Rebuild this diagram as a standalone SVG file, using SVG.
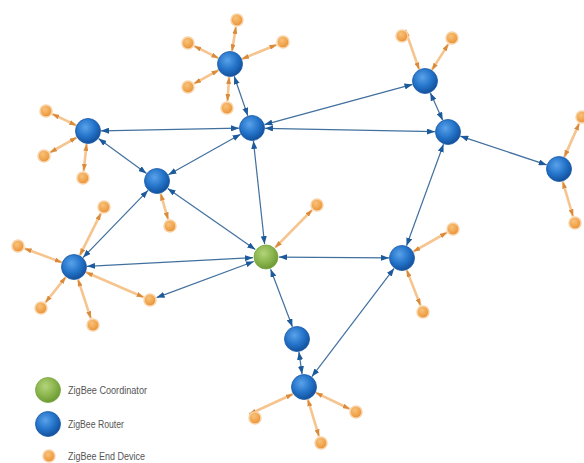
<svg xmlns="http://www.w3.org/2000/svg" width="584" height="463" viewBox="0 0 584 463">
<defs>
<radialGradient id="gBlue" cx="40%" cy="35%" r="65%">
<stop offset="0" stop-color="#5aa2ea"/>
<stop offset="0.6" stop-color="#2272c8"/>
<stop offset="1" stop-color="#14519c"/>
</radialGradient>
<radialGradient id="gGreen" cx="40%" cy="35%" r="65%">
<stop offset="0" stop-color="#b2d47a"/>
<stop offset="0.6" stop-color="#8ab44c"/>
<stop offset="1" stop-color="#6d9a36"/>
</radialGradient>
<radialGradient id="gOrange" cx="40%" cy="35%" r="65%">
<stop offset="0" stop-color="#f8c27a"/>
<stop offset="0.7" stop-color="#f0a24a"/>
<stop offset="1" stop-color="#e48e34"/>
</radialGradient>
<marker id="aBlue" viewBox="0 0 8 6" refX="8" refY="3" markerWidth="8" markerHeight="6" markerUnits="userSpaceOnUse" orient="auto-start-reverse">
<path d="M0,0 L8,3 L0,6 z" fill="#1d5a9c"/>
</marker>
<marker id="aOrange" viewBox="0 0 7 5" refX="7" refY="2.5" markerWidth="7" markerHeight="5" markerUnits="userSpaceOnUse" orient="auto-start-reverse">
<path d="M0,0 L7,2.5 L0,5 z" fill="#d98a3a"/>
</marker>
</defs>
<style>
.bl{stroke:#41709f;stroke-width:1.2;fill:none;marker-start:url(#aBlue);marker-end:url(#aBlue)}
.ol{stroke:#f6c48e;stroke-width:2.6;fill:none;marker-start:url(#aOrange);marker-end:url(#aOrange)}
.router{fill:url(#gBlue);stroke:#1a5aa8;stroke-width:0.8}
.coord{fill:url(#gGreen);stroke:#7aa640;stroke-width:0.8}
.end{fill:url(#gOrange);stroke:#f8d2a6;stroke-width:1.5}
.lg{font-family:"Liberation Sans",Arial,sans-serif;font-size:10px;fill:#555555}
</style>
<rect width="584" height="463" fill="#ffffff"/>
<g id="connectors">
<line class="bl" x1="234.2" y1="76.3" x2="247.8" y2="115.7"/>
<line class="bl" x1="101" y1="130.8" x2="239" y2="128.2"/>
<line class="bl" x1="98.5" y1="138.6" x2="146.5" y2="173.4"/>
<line class="bl" x1="168.4" y1="174.7" x2="240.6" y2="134.3"/>
<line class="bl" x1="264.5" y1="124.6" x2="412.5" y2="84.4"/>
<line class="bl" x1="265" y1="128.3" x2="435" y2="131.7"/>
<line class="bl" x1="430.3" y1="92.8" x2="442.7" y2="120.2"/>
<line class="bl" x1="460.3" y1="136.1" x2="546.7" y2="164.9"/>
<line class="bl" x1="253.4" y1="140.9" x2="264.6" y2="244.1"/>
<line class="bl" x1="167.7" y1="188.4" x2="255.3" y2="249.6"/>
<line class="bl" x1="83" y1="257.6" x2="148" y2="190.4"/>
<line class="bl" x1="87" y1="266.3" x2="253" y2="257.7"/>
<line class="bl" x1="156.6" y1="297.6" x2="253.8" y2="261.5"/>
<line class="bl" x1="279" y1="257.1" x2="389" y2="257.9"/>
<line class="bl" x1="443.5" y1="144.2" x2="406.5" y2="245.8"/>
<line class="bl" x1="270.6" y1="269.2" x2="292.4" y2="326.8"/>
<line class="bl" x1="298.9" y1="351.9" x2="302.1" y2="374.1"/>
<line class="bl" x1="394.1" y1="268.4" x2="311.9" y2="376.6"/>
<line class="ol" x1="232" y1="51.2" x2="235.9" y2="26.9"/>
<line class="ol" x1="218.4" y1="58.2" x2="194.3" y2="46.1"/>
<line class="ol" x1="242" y1="59" x2="276.5" y2="44.7"/>
<line class="ol" x1="218.6" y1="70.2" x2="194.1" y2="83.6"/>
<line class="ol" x1="229.1" y1="77" x2="227.5" y2="101"/>
<line class="ol" x1="76.3" y1="125.4" x2="52.3" y2="114"/>
<line class="ol" x1="76.7" y1="137.4" x2="50.1" y2="152.5"/>
<line class="ol" x1="86.6" y1="143.9" x2="83.7" y2="171"/>
<line class="ol" x1="160.6" y1="193.5" x2="168.1" y2="219.3"/>
<line class="ol" x1="79.8" y1="255.4" x2="100.9" y2="213.3"/>
<line class="ol" x1="61.8" y1="262.4" x2="24.6" y2="248.5"/>
<line class="ol" x1="65.8" y1="277.1" x2="45.4" y2="302.5"/>
<line class="ol" x1="78" y1="279.4" x2="90.8" y2="318.3"/>
<line class="ol" x1="85.9" y1="272.2" x2="143.6" y2="297.2"/>
<line class="ol" x1="275.1" y1="247.7" x2="312.1" y2="210"/>
<line class="ol" x1="419.1" y1="69.4" x2="405.2" y2="29.8"/>
<line class="ol" x1="431.9" y1="70" x2="448.3" y2="44.1"/>
<line class="ol" x1="564.3" y1="157.1" x2="579.2" y2="123.4"/>
<line class="ol" x1="562.7" y1="181.5" x2="573" y2="216.3"/>
<line class="ol" x1="413.3" y1="251.6" x2="446.9" y2="232.5"/>
<line class="ol" x1="406.7" y1="270.1" x2="420.5" y2="305.5"/>
<line class="ol" x1="315.7" y1="392.6" x2="349.7" y2="409"/>
<line class="ol" x1="307.8" y1="399.4" x2="319" y2="436.3"/>
<line class="ol" x1="293" y1="394" x2="249.1" y2="414.3"/>
</g>
<g id="coordinator"><circle class="coord" cx="266" cy="257" r="12"/></g>
<g id="router1"><circle class="router" cx="230" cy="64" r="12.5"/></g>
<g id="router2"><circle class="router" cx="252" cy="128" r="12.5"/></g>
<g id="router3"><circle class="router" cx="88" cy="131" r="12.5"/></g>
<g id="router4"><circle class="router" cx="157" cy="181" r="12.5"/></g>
<g id="router5"><circle class="router" cx="425" cy="81" r="12.5"/></g>
<g id="router6"><circle class="router" cx="448" cy="132" r="12.5"/></g>
<g id="router7"><circle class="router" cx="559" cy="169" r="12.5"/></g>
<g id="router8"><circle class="router" cx="74" cy="267" r="12.5"/></g>
<g id="router9"><circle class="router" cx="402" cy="258" r="12.5"/></g>
<g id="router10"><circle class="router" cx="297" cy="339" r="12.5"/></g>
<g id="router11"><circle class="router" cx="304" cy="387" r="12.5"/></g>
<g id="end1"><circle class="end" cx="237" cy="20" r="6"/></g>
<g id="end2"><circle class="end" cx="188" cy="43" r="6"/></g>
<g id="end3"><circle class="end" cx="283" cy="42" r="6"/></g>
<g id="end4"><circle class="end" cx="188" cy="87" r="6"/></g>
<g id="end5"><circle class="end" cx="227" cy="108" r="6"/></g>
<g id="end6"><circle class="end" cx="46" cy="111" r="6"/></g>
<g id="end7"><circle class="end" cx="44" cy="156" r="6"/></g>
<g id="end8"><circle class="end" cx="83" cy="178" r="6"/></g>
<g id="end9"><circle class="end" cx="170" cy="226" r="6"/></g>
<g id="end10"><circle class="end" cx="104" cy="207" r="6"/></g>
<g id="end11"><circle class="end" cx="18" cy="246" r="6"/></g>
<g id="end12"><circle class="end" cx="41" cy="308" r="6"/></g>
<g id="end13"><circle class="end" cx="93" cy="325" r="6"/></g>
<g id="end14"><circle class="end" cx="150" cy="300" r="6"/></g>
<g id="end15"><circle class="end" cx="317" cy="205" r="6"/></g>
<g id="end16"><circle class="end" cx="402" cy="36" r="6"/></g>
<g id="end17"><circle class="end" cx="452" cy="38" r="6"/></g>
<g id="end18"><circle class="end" cx="582" cy="117" r="6"/></g>
<g id="end19"><circle class="end" cx="575" cy="223" r="6"/></g>
<g id="end20"><circle class="end" cx="453" cy="229" r="6"/></g>
<g id="end21"><circle class="end" cx="423" cy="312" r="6"/></g>
<g id="end22"><circle class="end" cx="356" cy="412" r="6"/></g>
<g id="end23"><circle class="end" cx="321" cy="443" r="6"/></g>
<g id="end24"><circle class="end" cx="255" cy="418" r="6"/></g>
<g id="legend">
<circle class="coord" cx="48" cy="390" r="12.5"/>
<circle class="router" cx="48" cy="424" r="12.5"/>
<circle class="end" cx="49" cy="456" r="6"/>
<text class="lg" x="68" y="394" textLength="79" lengthAdjust="spacingAndGlyphs">ZigBee Coordinator</text>
<text class="lg" x="68" y="428" textLength="56" lengthAdjust="spacingAndGlyphs">ZigBee Router</text>
<text class="lg" x="68" y="460" textLength="77" lengthAdjust="spacingAndGlyphs">ZigBee End Device</text>
</g>
</svg>
